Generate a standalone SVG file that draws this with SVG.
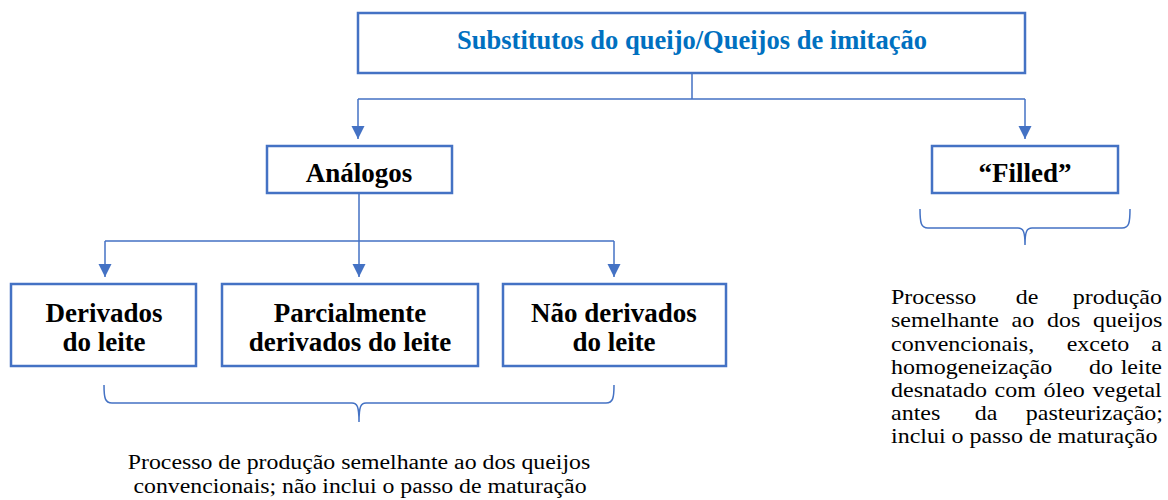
<svg xmlns="http://www.w3.org/2000/svg" width="1168" height="500" viewBox="0 0 1168 500">
<defs>
<style>
.box{fill:#fff;stroke:#4472C4;stroke-width:2.5}
.b{font-family:"Liberation Serif","Times New Roman",serif;font-weight:bold;font-size:27px;fill:#000;text-anchor:middle}
.t{font-family:"Liberation Serif","Times New Roman",serif;font-size:20px;fill:#000}
.c{fill:none;stroke:#4472C4;stroke-width:1.5}
.br{fill:none;stroke:#4472C4;stroke-width:1.5}
</style>
<marker id="arr" markerWidth="14" markerHeight="14" refX="13" refY="7" orient="auto" markerUnits="userSpaceOnUse">
<path d="M0,0.5 L13,7 L0,13.5 Z" fill="#4472C4"/>
</marker>
</defs>
<rect width="1168" height="500" fill="#fff"/>
<g id="connectors">
<path class="c" d="M692,73 V99 M358,99 H1025"/>
<path class="c" d="M358,99 V139" marker-end="url(#arr)"/>
<path class="c" d="M1025,99 V139" marker-end="url(#arr)"/>
<path class="c" d="M359,193 V241 M105,241 H614"/>
<path class="c" d="M105,241 V277" marker-end="url(#arr)"/>
<path class="c" d="M359,241 V277" marker-end="url(#arr)"/>
<path class="c" d="M614,241 V277" marker-end="url(#arr)"/>
</g>
<g id="brace-bottom">
<path class="br" d="M104,385 C104,398 105,403 112,403 L352,403 C357,403 359,406 359,422 C359,406 361,403 366,403 L606,403 C613,403 614,398 614,385"/>
</g>
<g id="brace-right">
<path class="br" d="M920,209 C920,223 921,228 928,228 L1018,228 C1023,228 1025,231 1025,245 C1025,231 1027,228 1032,228 L1122,228 C1129,228 1130,223 1130,209"/>
</g>
<g id="node-root">
<rect class="box" x="358" y="13" width="667" height="60"/>
<text class="b" x="692" y="49" style="fill:#0070C0" textLength="470" lengthAdjust="spacingAndGlyphs">Substitutos do queijo/Queijos de imitação</text>
</g>
<g id="node-analogos">
<rect class="box" x="267" y="146" width="185" height="47"/>
<text class="b" x="359" y="182">Análogos</text>
</g>
<g id="node-filled">
<rect class="box" x="932" y="146" width="186" height="47"/>
<text class="b" x="1025" y="182">“Filled”</text>
</g>
<g id="node-derivados">
<rect class="box" x="11" y="284" width="185" height="82"/>
<text class="b" x="104" y="322">Derivados</text>
<text class="b" x="104" y="351">do leite</text>
</g>
<g id="node-parcialmente">
<rect class="box" x="222" y="284" width="256" height="82"/>
<text class="b" x="350" y="322">Parcialmente</text>
<text class="b" x="350" y="351">derivados do leite</text>
</g>
<g id="node-nao">
<rect class="box" x="503" y="284" width="223" height="82"/>
<text class="b" x="614" y="322">Não derivados</text>
<text class="b" x="614" y="351">do leite</text>
</g>
<g id="note-bottom">
<text class="t" transform="translate(359,469) scale(1.19,1)" text-anchor="middle">Processo de produção semelhante ao dos queijos</text>
<text class="t" transform="translate(360,493) scale(1.19,1)" text-anchor="middle">convencionais; não inclui o passo de maturação</text>
</g>
<g id="note-right">
<text class="t" transform="translate(891,304) scale(1.2,1)">Processo</text>
<text class="t" transform="translate(1027,304) scale(1.2,1)" text-anchor="middle">de</text>
<text class="t" transform="translate(1162,304) scale(1.2,1)" text-anchor="end">produção</text>
<text class="t" transform="translate(891,327) scale(1.2,1)" style="word-spacing:5.6px">semelhante ao dos queijos</text>
<text class="t" transform="translate(891,351) scale(1.2,1)">convencionais,</text>
<text class="t" transform="translate(1098,351) scale(1.2,1)" text-anchor="middle">exceto</text>
<text class="t" transform="translate(1162,351) scale(1.2,1)" text-anchor="end">a</text>
<text class="t" transform="translate(891,374) scale(1.2,1)">homogeneização</text>
<text class="t" transform="translate(1101,374) scale(1.2,1)" text-anchor="middle">do</text>
<text class="t" transform="translate(1162,374) scale(1.2,1)" text-anchor="end">leite</text>
<text class="t" transform="translate(891,397) scale(1.2,1)" style="word-spacing:1.4px">desnatado com óleo vegetal</text>
<text class="t" transform="translate(891,420) scale(1.2,1)">antes</text>
<text class="t" transform="translate(986,420) scale(1.2,1)" text-anchor="middle">da</text>
<text class="t" transform="translate(1163,420) scale(1.2,1)" text-anchor="end">pasteurização;</text>
<text class="t" transform="translate(891,443) scale(1.2,1)">inclui o passo de maturação</text>
</g>
</svg>
